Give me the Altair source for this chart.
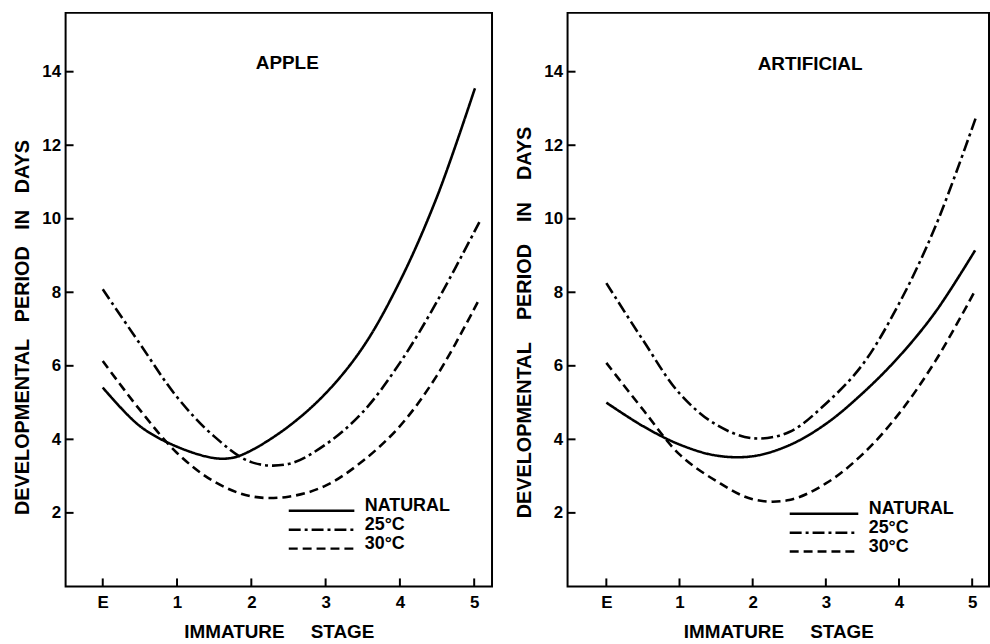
import altair as alt
import pandas as pd

# ---- data ----
series_names = ["NATURAL", "25°C", "30°C"]
stage_values = [0, 1, 2, 3, 4, 5]
stage_labels = ["E", "1", "2", "3", "4", "5"]
y_tick_values = [2, 4, 6, 8, 10, 12, 14]

# APPLE panel
apple_nat_x = [0, 0.5, 1, 1.5, 1.75, 2, 2.5, 3, 3.5, 4, 4.5, 5.01]
apple_nat_y = [5.41, 4.36, 3.8, 3.49, 3.5, 3.7, 4.35, 5.25, 6.5, 8.3, 10.6, 13.55]
apple_25_x = [0, 0.5, 1, 1.5, 2, 2.5, 3, 3.5, 4, 4.5, 5.07]
apple_25_y = [8.08, 6.6, 5.15, 4.08, 3.38, 3.33, 3.86, 4.74, 6.08, 7.75, 9.91]
apple_30_x = [0, 0.5, 1, 1.5, 2, 2.5, 3, 3.5, 4, 4.5, 5.05]
apple_30_y = [6.13, 4.8, 3.63, 2.85, 2.45, 2.44, 2.74, 3.41, 4.36, 5.74, 7.74]

# ARTIFICIAL panel
art_nat_x = [0, 0.5, 1, 1.5, 2, 2.5, 3, 3.5, 4, 4.5, 5.04]
art_nat_y = [5.0, 4.36, 3.86, 3.56, 3.54, 3.84, 4.42, 5.25, 6.25, 7.47, 9.14]
art_25_x = [0, 0.5, 1, 1.5, 2, 2.5, 3, 3.5, 4, 4.5, 5.05]
art_25_y = [8.25, 6.7, 5.25, 4.4, 4.03, 4.2, 4.97, 6.03, 7.69, 9.8, 12.75]
art_30_x = [0, 0.5, 1, 1.5, 2, 2.5, 3, 3.5, 4, 4.5, 5.02]
art_30_y = [6.08, 4.81, 3.59, 2.87, 2.37, 2.35, 2.8, 3.59, 4.7, 6.14, 7.97]

FONT = "Liberation Sans"
dashes = [[1, 0], [12, 4, 3, 4], [9, 5]]


def make_df(triples):
    rows = []
    for name, xs, ys in triples:
        for i, (a, b) in enumerate(zip(xs, ys)):
            rows.append({"series": name, "x": a, "y": b, "order": i})
    return pd.DataFrame(rows)


apple_df = make_df([
    (series_names[0], apple_nat_x, apple_nat_y),
    (series_names[1], apple_25_x, apple_25_y),
    (series_names[2], apple_30_x, apple_30_y),
])
art_df = make_df([
    (series_names[0], art_nat_x, art_nat_y),
    (series_names[1], art_25_x, art_25_y),
    (series_names[2], art_30_x, art_30_y),
])

label_expr = "[" + ",".join("'%s'" % s for s in stage_labels) + "][datum.value]"


def panel(df, title, tx, ty, xdom, w, h, ytitle, ytitle_y, xtitle, lx, ly, sym_len):
    xscale = alt.Scale(domain=xdom, nice=False, zero=False)
    yscale = alt.Scale(domain=[0, 15.6], nice=False, zero=False)
    xaxis = alt.Axis(values=stage_values, labelExpr=label_expr,
                     title=xtitle, labelPadding=8, titlePadding=12,
                     labelFontSize=17, titleFontSize=19)
    yaxis = alt.Axis(values=y_tick_values, title=ytitle,
                     labelPadding=5, titlePadding=9, titleY=ytitle_y,
                     labelFontSize=17, titleFontSize=20)
    lines = alt.Chart(df).mark_line(
        interpolate="catmull-rom", color="black", strokeWidth=2.6
    ).encode(
        x=alt.X("x:Q", scale=xscale, axis=xaxis),
        y=alt.Y("y:Q", scale=yscale, axis=yaxis),
        strokeDash=alt.StrokeDash(
            "series:N",
            scale=alt.Scale(domain=series_names, range=dashes),
            sort=series_names,
            legend=alt.Legend(
                orient="none", legendX=lx, legendY=ly, title=None,
                symbolType="stroke", symbolSize=sym_len * sym_len,
                symbolStrokeWidth=2.5, symbolStrokeColor="black",
                labelFont=FONT, labelFontSize=18, labelFontWeight="bold",
                labelColor="black", labelBaseline="alphabetic",
                labelOffset=9, rowPadding=-4, clipHeight=18,
            ),
        ),
        order="order:Q",
    )
    yt = alt.Chart(pd.DataFrame({"y": y_tick_values})).mark_rule(
        color="black", strokeWidth=2
    ).encode(y=alt.Y("y:Q", scale=yscale, axis=yaxis), x=alt.value(0), x2=alt.value(8))
    xt = alt.Chart(pd.DataFrame({"x": stage_values})).mark_rule(
        color="black", strokeWidth=2
    ).encode(x=alt.X("x:Q", scale=xscale, axis=xaxis), y=alt.value(h), y2=alt.value(h - 8))
    ttl = alt.Chart(pd.DataFrame({"t": [title]})).mark_text(
        font=FONT, fontSize=19, fontWeight="bold", color="black"
    ).encode(text="t:N", x=alt.value(tx), y=alt.value(ty))
    return alt.layer(lines, yt, xt, ttl).properties(width=w, height=h)


NB = "\u00a0"
left = panel(apple_df, "APPLE", 223, 50, [-0.5, 5.24], 429, 577,
             "DEVELOPMENTAL" + NB * 3 + "PERIOD" + NB * 3 + "IN" + NB * 3 + "DAYS", 316,
             "IMMATURE" + NB * 5 + "STAGE", 223, 492, 66)
right = panel(art_df, "ARTIFICIAL", 244, 51, [-0.53, 5.23], 424, 577,
              "DEVELOPMENTAL" + NB * 4 + "PERIOD" + NB * 4 + "IN" + NB * 4 + "DAYS", 311,
              "IMMATURE" + NB * 5 + "STAGE", 222, 495, 69)

chart = alt.hconcat(left, right, spacing=21).resolve_scale(
    x="independent", strokeDash="independent"
).resolve_legend(strokeDash="independent").properties(
    padding={"left": 12, "top": 10, "right": 0, "bottom": 0},
    background="white",
).configure_view(
    stroke="black", strokeWidth=2
).configure_axis(
    domain=False, ticks=False, grid=False,
    labelFont=FONT, labelFontWeight="bold", labelColor="black",
    titleFont=FONT, titleFontWeight="bold", titleColor="black",
)

chart.save("out.html", embed_options={"renderer": "svg", "actions": False})
